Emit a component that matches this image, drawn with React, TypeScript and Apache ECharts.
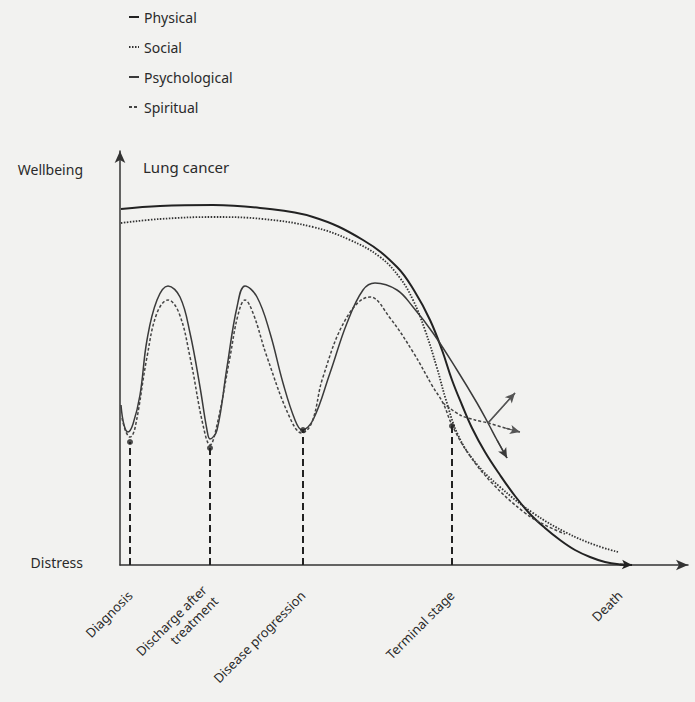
import React, { useEffect, useRef } from "react";
import * as echarts from "echarts";

// Wellbeing trajectories, lung cancer (x: time units, y: wellbeing units)
const seriesNames = ["Physical", "Social", "Psychological", "Spiritual"];

const physical: number[][] = [
  [1, 356], [40, 359], [93, 360], [140, 357], [193, 348], [243, 325], [277, 298],
  [295, 273], [310, 245], [322, 215], [332, 185], [342, 160], [352, 137], [365, 113],
  [380, 90], [395, 69], [410, 51], [425, 37], [440, 25], [455, 15], [470, 8],
  [485, 3], [500, 0.6], [512, 0],
];

const social: number[][] = [
  [1, 342], [40, 346], [93, 348], [143, 346], [193, 338], [230, 325], [260, 308],
  [280, 287], [293, 265], [305, 235], [317, 197], [326, 165], [338, 130], [355, 103],
  [380, 78], [413, 52], [447, 32], [475, 20], [498, 13],
];

const psychological: number[][] = [
  [1, 160], [4, 140], [8, 133], [13, 141], [20, 170], [27, 225], [37, 265], [48, 279],
  [60, 268], [70, 232], [80, 178], [87, 135], [90, 126], [97, 135], [107, 198], [117, 258],
  [125, 279], [137, 268], [150, 232], [163, 182], [175, 145], [182, 135], [193, 145],
  [210, 192], [227, 242], [243, 275], [255, 282], [277, 275], [293, 258], [313, 232],
  [337, 195], [357, 162], [368, 142], [377, 125], [387, 107],
];

const spiritual: number[][] = [
  [2, 147], [6, 133], [10, 128], [15, 137], [27, 208], [37, 252], [48, 265], [59, 252],
  [70, 208], [83, 140], [90, 120], [97, 140], [110, 208], [118, 250], [125, 265],
  [133, 252], [147, 208], [170, 147], [182, 132], [192, 143], [203, 188], [227, 248],
  [250, 268], [270, 247], [293, 213], [313, 178], [323, 162], [332, 140], [348, 112],
  [372, 82], [405, 52], [425, 40], [445, 31],
];

const spiritualLevel: number[][] = [
  [323, 162], [340, 150], [355, 145], [368, 142], [385, 137], [400, 133],
];

const spiritualRise: number[][] = [[368, 142], [395, 172]];

const stageNames = ["Diagnosis", "Discharge after\ntreatment", "Disease progression", "Terminal stage", "Death"];
const stageX = [10, 90, 183, 332, 500];
const stageDotY = [123, 117, 135, 139];

const yLabelValues = [3, 396];
const yLabelNames = ["Distress", "Wellbeing"];

const FONT = "Noto Sans";
const INK = "#2a2a2a";

function arrowMark(pts: number[][], color: string, width: number) {
  const a = pts[pts.length - 2];
  const b = pts[pts.length - 1];
  return {
    silent: true,
    animation: false,
    symbol: ["none", "arrow"],
    symbolSize: [7, 10],
    label: { show: false },
    emphasis: { disabled: true },
    lineStyle: { color, width, type: "solid" },
    data: [[{ coord: a }, { coord: b }]],
  };
}

export default function App() {
  const ref = useRef<HTMLDivElement>(null);

  useEffect(() => {
    if (!ref.current) return;
    const chart = echarts.init(ref.current, undefined, { renderer: "svg" });

    const lineBase = {
      type: "line",
      showSymbol: false,
      symbol: "none",
      silent: true,
      z: 3,
    };

    const dashSeries = stageDotY.map((y, i) => ({
      type: "line",
      name: "stage-" + i,
      showSymbol: false,
      symbol: "none",
      silent: true,
      data: [[stageX[i], 0], [stageX[i], y]],
      lineStyle: { color: "#222", width: 2, type: [7, 4] },
      z: 2,
    }));

    const option: any = {
      animation: false,
      backgroundColor: "#f2f2f0",
      textStyle: { fontFamily: FONT, color: INK },
      title: {
        text: "Lung cancer",
        left: 143,
        top: 159,
        padding: 0,
        textStyle: { fontFamily: FONT, fontSize: 15, fontWeight: "normal", color: INK },
      },
      legend: {
        data: seriesNames,
        orient: "vertical",
        left: 128,
        top: 10,
        padding: 0,
        itemWidth: 10,
        itemHeight: 14,
        itemGap: 16,
        selectedMode: false,
        itemStyle: { color: "rgba(0,0,0,0)", borderWidth: 0, opacity: 0 },
        textStyle: { fontFamily: FONT, fontSize: 14, color: INK },
      },
      grid: { left: 120, top: 151, right: 7, bottom: 137 },
      xAxis: {
        type: "value",
        min: 0,
        max: 568,
        splitLine: { show: false },
        axisTick: { show: false },
        axisLine: {
          show: true,
          symbol: ["none", "arrow"],
          symbolSize: [8, 12],
          lineStyle: { color: "#333", width: 1.5 },
        },
        axisLabel: {
          customValues: stageX,
          formatter: (v: number) => {
            const i = stageX.indexOf(v);
            return i >= 0 ? stageNames[i] : "";
          },
          rotate: 45,
          margin: 28,
          fontSize: 13,
          fontFamily: FONT,
          color: INK,
          lineHeight: 16,
        },
      },
      yAxis: {
        type: "value",
        min: 0,
        max: 414,
        splitLine: { show: false },
        axisTick: { show: false },
        axisLine: {
          show: true,
          onZero: false,
          symbol: ["none", "arrow"],
          symbolSize: [8, 12],
          lineStyle: { color: "#333", width: 1.5 },
        },
        axisLabel: {
          customValues: yLabelValues,
          formatter: (v: number) => {
            const i = yLabelValues.indexOf(v);
            return i >= 0 ? yLabelNames[i] : "";
          },
          margin: 37,
          fontSize: 14,
          fontFamily: FONT,
          color: INK,
        },
      },
      series: [
        {
          ...lineBase,
          name: "Physical",
          data: physical,
          smooth: 0.4,
          lineStyle: { color: "#222", width: 2 },
          itemStyle: { color: "#222" },
          markLine: arrowMark(physical, "#222", 2),
        },
        {
          ...lineBase,
          name: "Social",
          data: social,
          smooth: 0.4,
          lineStyle: { color: "#333", width: 1.8, type: [1.5, 1.5] },
          itemStyle: { color: "#333" },
        },
        {
          ...lineBase,
          name: "Psychological",
          data: psychological,
          smooth: 0.4,
          lineStyle: { color: "#3a3a3a", width: 1.5 },
          itemStyle: { color: "#3a3a3a" },
          markLine: arrowMark(psychological, "#3a3a3a", 1.5),
        },
        {
          ...lineBase,
          name: "Spiritual",
          data: spiritual,
          smooth: 0.4,
          lineStyle: { color: "#444", width: 1.5, type: [3, 2] },
          itemStyle: { color: "#444" },
        },
        {
          ...lineBase,
          name: "Spiritual",
          data: spiritualLevel,
          smooth: 0.3,
          lineStyle: { color: "#444", width: 1.5, type: [3, 2] },
          itemStyle: { color: "#444" },
          markLine: arrowMark(spiritualLevel, "#555", 1.2),
        },
        {
          ...lineBase,
          name: "Spiritual",
          data: spiritualRise,
          lineStyle: { color: "#555", width: 1.3 },
          itemStyle: { color: "#555" },
          markLine: arrowMark(spiritualRise, "#555", 1.3),
        },
        ...dashSeries,
        {
          type: "scatter",
          name: "stages",
          silent: true,
          symbol: "circle",
          symbolSize: 6,
          data: stageDotY.map((y, i) => [stageX[i], y]),
          itemStyle: { color: "#222" },
          z: 4,
        },
      ],
    };

    chart.setOption(option);
    return () => chart.dispose();
  }, []);

  return (
    <div
      ref={ref}
      style={{ position: "absolute", left: 0, top: 0, width: 695, height: 702 }}
    />
  );
}
